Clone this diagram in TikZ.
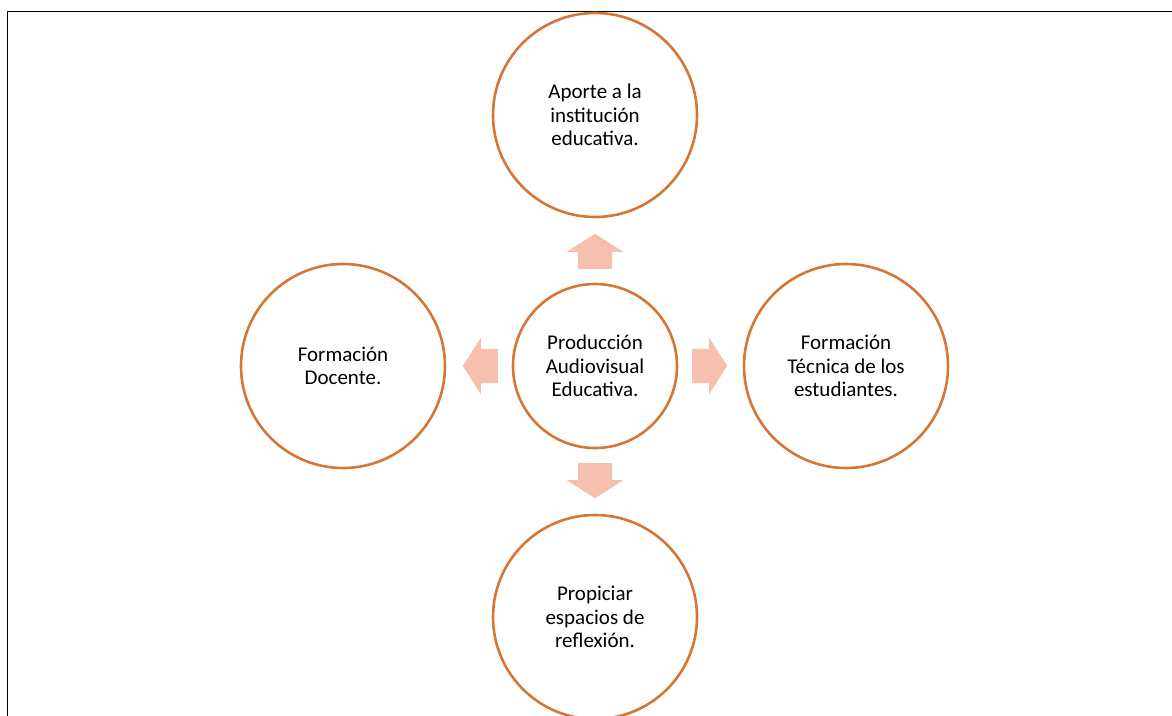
\documentclass[tikz,border=0pt]{standalone}
\usepackage{fontspec}
\setmainfont{Carlito}
\usetikzlibrary{shapes.arrows}
\definecolor{circorange}{RGB}{214,118,52}
\definecolor{arrpeach}{RGB}{245,192,174}

\begin{document}
\begin{tikzpicture}[x=1pt,y=-1pt,
  circ/.style={draw=circorange,line width=2.6pt,circle,minimum size=204pt,inner sep=0pt,
    align=center,font=\fontsize{21}{23.4}\selectfont},
  blockarr/.style={single arrow,fill=arrpeach,draw=none,anchor=tail,
    minimum height=35pt,single arrow head extend=11pt,single arrow tip angle=115,
    single arrow head indent=0pt}]
  \useasboundingbox (0,0) rectangle (1172,715);
  \clip (0,0) rectangle (1172,715);
  \draw[line width=1.2pt] (7.5,716) -- (7.5,11.5) -- (1173,11.5);

  \node[circ,minimum size=164pt] (prod) at (595,366) {Producción\\Audiovisual\\Educativa.};
  \node[circ] (aporte) at (595,115) {Aporte a la\\institución\\educativa.};
  \node[circ] (tecnica) at (846,366) {Formación\\Técnica de los\\estudiantes.};
  \node[circ] (reflexion) at (595,617) {Propiciar\\espacios de\\reflexión.};
  \node[circ] (docente) at (343,366) {Formación\\Docente.};

  \foreach \name/\ang/\xs/\ys in {up/90/17/0,right/0/0/17,down/270/17/0,left/180/0/17}
    \node[blockarr,shape border rotate=\ang,inner xsep=\xs pt,inner ysep=\ys pt]
      (arr\name) at ([shift={(\ang:97pt)}]prod.center) {};
\end{tikzpicture}
\end{document}
